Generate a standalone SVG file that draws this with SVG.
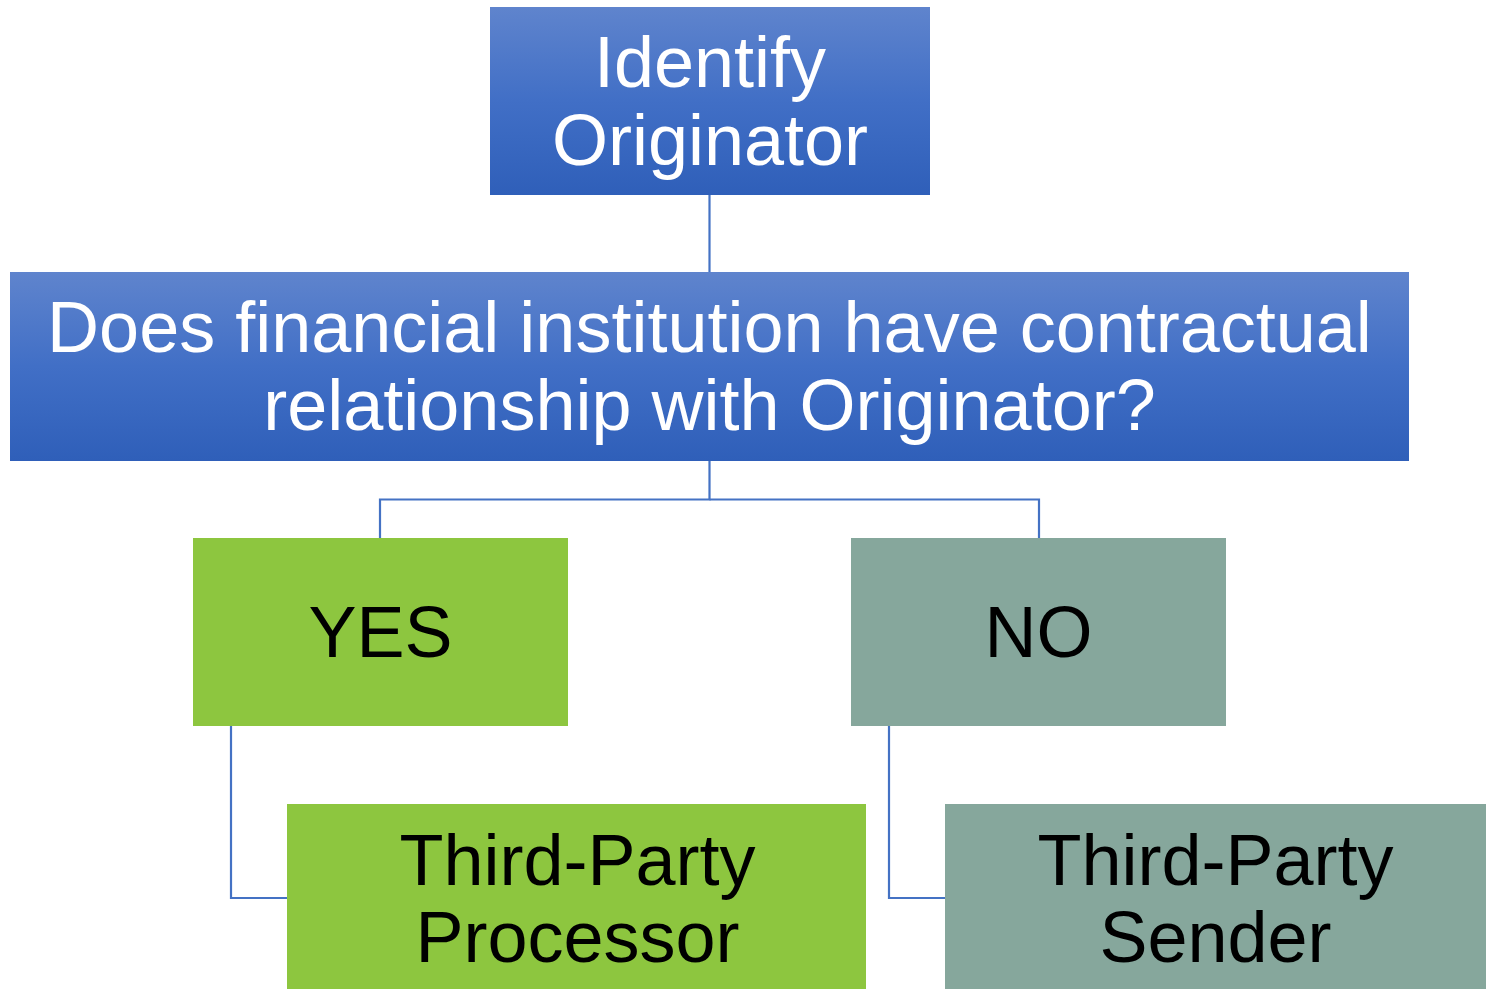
<svg xmlns="http://www.w3.org/2000/svg" width="1486" height="989" viewBox="0 0 1486 989">
  <defs>
    <linearGradient id="blueFill" x1="0" y1="0" x2="0" y2="1">
      <stop offset="0" stop-color="#5f84cd"/>
      <stop offset="0.5" stop-color="#416fc6"/>
      <stop offset="1" stop-color="#2f5fb9"/>
    </linearGradient>
  </defs>
  <style>
    .blue { fill: url(#blueFill); }
    .green { fill: #8dc63f; }
    .sage { fill: #86a79c; }
    .wt { fill: #ffffff; font-family: "Liberation Sans", Arial, sans-serif; font-size: 72px; text-anchor: middle; }
    .bk { fill: #000000; font-family: "Liberation Sans", Arial, sans-serif; font-size: 72px; text-anchor: middle; }
    .link { fill: none; stroke: #4472c4; stroke-width: 2.2; }
  </style>

  <rect width="1486" height="989" fill="#ffffff"/>

  <g id="connectors">
    <path class="link" d="M709.5 194 V272"/>
    <path class="link" d="M709.5 460 V499.5 H380 V538"/>
    <path class="link" d="M709.5 499.5 H1039 V538"/>
    <path class="link" d="M231 725 V898 H287"/>
    <path class="link" d="M889 725 V898 H945"/>
  </g>

  <g id="identify-originator">
    <rect class="blue" x="490" y="7" width="440" height="188"/>
    <text class="wt" x="710" y="87">Identify</text>
    <text class="wt" x="710" y="165">Originator</text>
  </g>

  <g id="contract-question">
    <rect class="blue" x="10" y="272" width="1399" height="189"/>
    <text class="wt" x="709.5" y="352">Does financial institution have contractual</text>
    <text class="wt" x="709.5" y="430">relationship with Originator?</text>
  </g>

  <g id="yes">
    <rect class="green" x="193" y="538" width="375" height="188"/>
    <text class="bk" x="380.5" y="657">YES</text>
  </g>

  <g id="no">
    <rect class="sage" x="851" y="538" width="375" height="188"/>
    <text class="bk" x="1038.5" y="657">NO</text>
  </g>

  <g id="third-party-processor">
    <rect class="green" x="287" y="804" width="579" height="185"/>
    <text class="bk" x="577.5" y="885">Third-Party</text>
    <text class="bk" x="577.5" y="962">Processor</text>
  </g>

  <g id="third-party-sender">
    <rect class="sage" x="945" y="804" width="541" height="185"/>
    <text class="bk" x="1215.5" y="885">Third-Party</text>
    <text class="bk" x="1215.5" y="962">Sender</text>
  </g>
</svg>
